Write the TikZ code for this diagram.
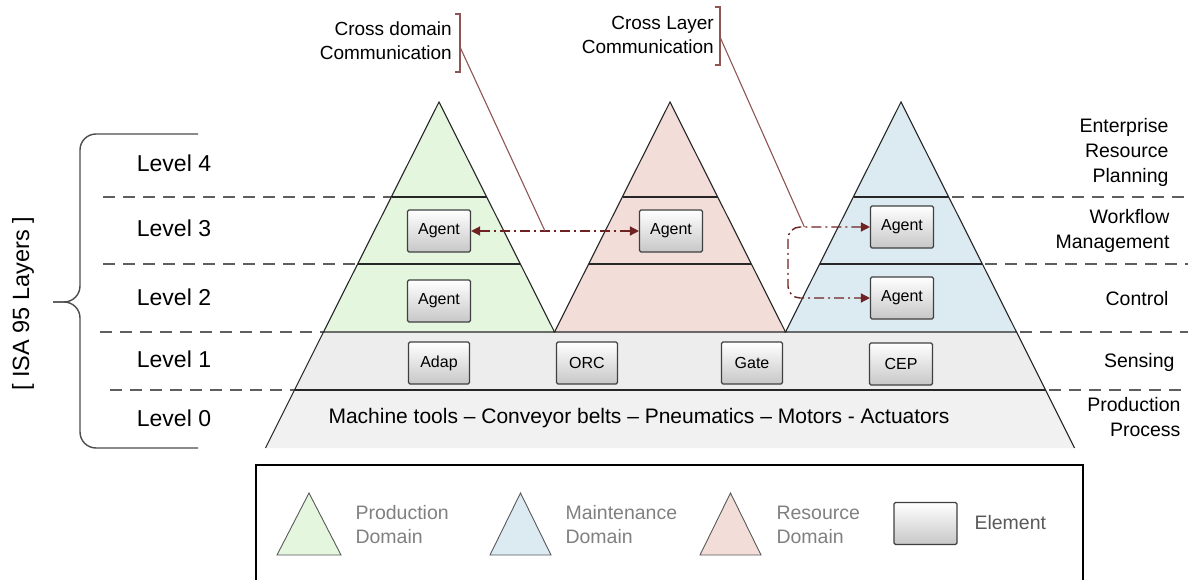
\documentclass[tikz,border=0pt]{standalone}
\usepackage{fontspec}
\setmainfont{Liberation Sans}
\usepackage{tikz}
\usetikzlibrary{arrows.meta}
\usetikzlibrary{positioning}
\definecolor{prodgreen}{HTML}{E4F6DE}
\definecolor{resred}{HTML}{F2DDD9}
\definecolor{mainblue}{HTML}{DCEBF2}
\definecolor{bandgray}{HTML}{EDEDED}
\definecolor{basegray}{HTML}{F1F1F1}
\definecolor{commred}{HTML}{6E2222}
\definecolor{annotred}{HTML}{8E5555}
\definecolor{dashgray}{HTML}{5E5E5E}
\tikzset{elem/.style = {draw = black!75, line width = 1.1pt, rounded corners = 1.5pt, top color = white, bottom color = black!22, minimum width = 63pt, minimum height = 42pt, inner sep = 0pt, font = \fontsize{16}{16}\selectfont}}
\tikzset{dom/.style = {draw = black!85, line width = 1.1pt}}
\tikzset{legtri/.style = {draw = black!65, line width = 0.9pt}}
\tikzset{lvldash/.style = {draw = dashgray, line width = 2pt, dash pattern = on 12pt off 8pt}}
\tikzset{lvl/.style = {font = \fontsize{23}{23}\selectfont}}
\tikzset{side/.style = {align = right, anchor = east, font = \fontsize{19.5}{25}\selectfont}}
\tikzset{note/.style = {align = right, anchor = east, inner sep = 0pt, font = \fontsize{19}{24}\selectfont}}
\tikzset{legtext/.style = {align = left, anchor = west, text = black!50, font = \fontsize{19.5}{24}\selectfont}}
\tikzset{comm/.style = {draw = commred, line width = 1.4pt, dash pattern = on 10pt off 4pt on 2pt off 4pt}}
\tikzset{commtip/.tip = {Triangle[length = 9pt, width = 9pt]}}
\tikzset{annot/.style = {draw = annotred, line width = 1.1pt}}
\tikzset{brace/.style = {draw = black!70, line width = 1.4pt}}

\begin{document}
\begin{tikzpicture}[x = 1pt, y = -1pt]
    \useasboundingbox (0, 0) rectangle (1188, 580);

    % dashed level lines, left and right of the pyramids
    \foreach \y/\xa/\xb/\xc in {197/103/391.5/952, 264/103/358/985, 332/100/323.5/1020, 390/110/294.5/1049}
      {\draw [lvldash] (\xa, \y) -- (\xb, \y);
       \draw [lvldash] (\xc, \y) -- (1188, \y);}

    % shared levels 1 and 0
    \fill [bandgray] (323.5, 332) -- (1016.5, 332) -- (1045.5, 390) -- (294.5, 390) -- cycle;
    \fill [basegray] (294.5, 390) -- (1045.5, 390) -- (1074.5, 448) -- (265.5, 448) -- cycle;
    \draw [dom] (323.5, 332) -- (265.5, 448);
    \draw [dom] (1016.5, 332) -- (1074.5, 448);
    \draw [dom] (294.5, 390) -- (1045.5, 390);

    \begin{scope}[shift = {(439, 0)}]
      \draw [dom, fill = prodgreen] (0, 102) -- (-115.5, 332) -- (115.5, 332) -- cycle;
      \draw [dom] (-47.5, 197) -- (47.5, 197);
      \draw [dom] (-81, 264) -- (81, 264);
    \end{scope}

    \begin{scope}[shift = {(670, 0)}]
      \draw [dom, fill = resred] (0, 102) -- (-115.5, 332) -- (115.5, 332) -- cycle;
      \draw [dom] (-47.5, 197) -- (47.5, 197);
      \draw [dom] (-81, 264) -- (81, 264);
    \end{scope}

    \begin{scope}[shift = {(901, 0)}]
      \draw [dom, fill = mainblue] (0, 102) -- (-115.5, 332) -- (115.5, 332) -- cycle;
      \draw [dom] (-47.5, 197) -- (47.5, 197);
      \draw [dom] (-81, 264) -- (81, 264);
    \end{scope}

    \node [elem] (ga3) at (439, 231) {Agent};
    \node [elem] (ga2) at (439, 301) {Agent};
    \node [elem] (ra3) at (671, 231) {Agent};
    \node [elem] (ma3) at (902, 227) {Agent};
    \node [elem] (ma2) at (902, 298) {Agent};

    \node [elem, minimum width = 61pt] (adap) at (439, 363) {Adap};
    \node [elem, minimum width = 61pt] (orc) at (587, 363) {ORC};
    \node [elem, minimum width = 61pt] (gate) at (752, 363) {Gate};
    \node [elem, minimum width = 63pt] (cep) at (901, 364) {CEP};

    \node [font = \fontsize{21}{21}\selectfont] (l0text) at (639, 418) {Machine tools – Conveyor belts – Pneumatics – Motors - Actuators};

    % communication
    \draw [comm, commtip-commtip] (ga3.east) -- coordinate [pos = 0.44] (cdhit) (ra3.west);
    \draw [comm, commtip-commtip, rounded corners = 12pt] (ma3.west) -- ++(-82, 0) coordinate [pos = 0.8] (clhit) |- (ma2.west);

    \node [note] (cdtext) at (452, 41) {Cross domain\\Communication};
    \draw [annot] (455, 14) -- (460, 14) -- (460, 72) -- (455, 72);
    \coordinate (cdbr) at (460, 47);
    \draw [annot] (cdbr) -- (cdhit);

    \node [note] (cltext) at (714, 35) {Cross Layer\\Communication};
    \draw [annot] (715, 7) -- (720, 7) -- (720, 65) -- (715, 65);
    \coordinate (clbr) at (720, 37);
    \draw [annot] (clbr) -- (clhit);

    % isa 95 levels
    \node [lvl] (lv4) at (174, 163) {Level 4};
    \node [lvl] (lv3) at (174, 228) {Level 3};
    \node [lvl] (lv2) at (174, 297) {Level 2};
    \node [lvl] (lv1) at (174, 359) {Level 1};
    \node [lvl] (lv0) at (174, 418) {Level 0};

    \draw [brace, rounded corners = 16pt] (198, 134) -- (80, 134) -- (80, 302) -- (53, 302);
    \draw [brace, rounded corners = 16pt] (53, 302) -- (80, 302) -- (80, 448) -- (198, 448);
    \node [rotate = 90, font = \fontsize{23.5}{23}\selectfont] (isa) at (23, 304) {[ ISA 95 Layers ]};

    \node [side] (erp) at (1172, 152) {Enterprise\\Resource\\Planning};
    \node [side] (wfm) at (1173, 230.5) {Workflow\\Management};
    \node [side] (ctrl) at (1172, 299) {Control};
    \node [side] (sens) at (1178, 362) {Sensing};
    \node [side] (prod) at (1184, 417.5) {Production\\Process};

    % legend
    \draw [line width = 1.4pt] (256, 590) -- (256, 465) -- (1083, 465) -- (1083, 590);
    \draw [legtri, fill = prodgreen] (309, 493) -- (277, 555) -- (341, 555) -- cycle;
    \node [legtext] (legprod) at (352, 525) {Production\\Domain};
    \draw [legtri, fill = mainblue] (520.5, 493) -- (490, 555) -- (551, 555) -- cycle;
    \node [legtext] (legmain) at (562, 525) {Maintenance\\Domain};
    \draw [legtri, fill = resred] (730.5, 493) -- (700, 555) -- (761, 555) -- cycle;
    \node [legtext] (legres) at (773, 525) {Resource\\Domain};
    \node [elem] (legelem) at (925.5, 523.5) {};
    \node [legtext, text = black!65] (legel) at (971, 523) {Element};
  \end{tikzpicture}
\end{document}
